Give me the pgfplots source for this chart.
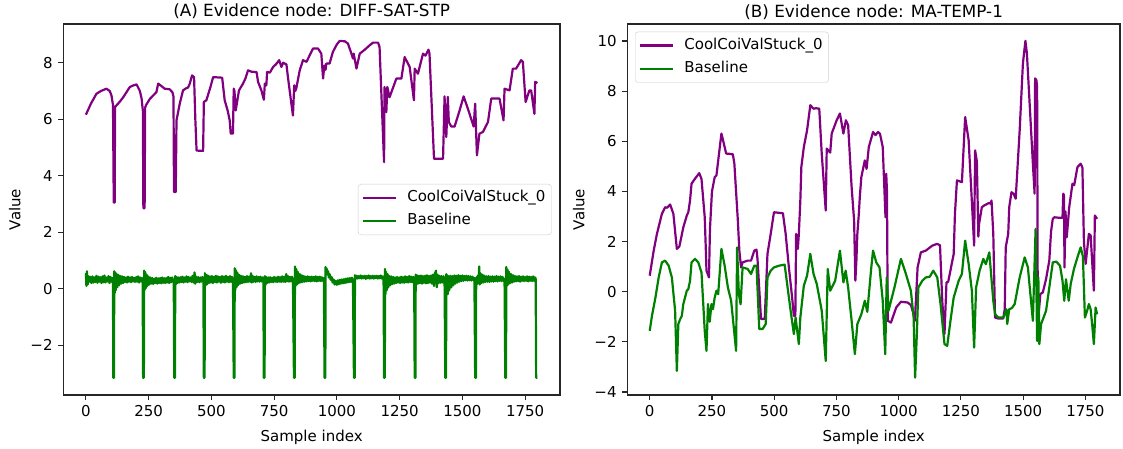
\documentclass[border=0pt]{standalone}
\usepackage{fontspec}
\setmainfont{DejaVu Sans}
\usepackage{pgfplots}
\pgfplotsset{compat=1.18}
\definecolor{mplpurple}{HTML}{800080}
\definecolor{mplgreen}{HTML}{008000}
\definecolor{legframe}{HTML}{CCCCCC}

\pgfplotsset{
  panel/.style={
    scale only axis, width=496.7pt, height=371pt,
    xmin=-90, xmax=1889,
    xtick={0,250,...,1750},
    xticklabels={0,250,500,750,1000,1250,1500,1750},
    axis line style={line width=1.1pt, black!85},
    tick style={line width=1.1pt, black!85},
    tick align=outside, major tick length=5pt, tick pos=left,
    ticklabel style={font=\fontsize{15}{18}\selectfont, inner sep=0pt},
    xticklabel shift=5.5pt, yticklabel shift=5.5pt,
    xlabel={Sample index}, ylabel={Value},
    every axis x label/.style={at={(axis description cs:0.5,0)}, anchor=north,
      inner sep=0pt, yshift=-35pt, font=\fontsize{15}{18}\selectfont},
    every axis y label/.style={at={(axis description cs:0,0.5)}, xshift=-42.6pt,
      rotate=90, anchor=south, inner sep=0pt, font=\fontsize{15}{18}\selectfont},
    every axis title/.style={font=\fontsize{16.8}{20}\selectfont, at={(axis description cs:0.5,1)},
      anchor=base, inner sep=0pt, yshift=7pt},
    legend style={draw=legframe, rounded corners=3pt, fill=white, fill opacity=0.8,
      text opacity=1, font=\fontsize{15}{18}\selectfont, inner xsep=4pt, inner ysep=4.4pt,
      nodes={inner sep=2pt, text height=11pt, text depth=3.5pt}, row sep=4.8pt, column sep=8pt},
    legend cell align=left,
    legend image code/.code={\draw[#1] (0pt,0pt) -- (33pt,0pt);},
    every axis plot/.append style={line width=2.2pt, line join=round},
  }
}

\begin{document}
\begin{tikzpicture}
\useasboundingbox (0pt,0pt) rectangle (1123pt,448pt);

% (A) DIFF-SAT-STP
\begin{axis}[panel, at={(63.3pt,53pt)}, anchor=south west,
  ymin=-3.76, ymax=9.37,
  ytick={-2,0,2,4,6,8}, yticklabels={−2,0,2,4,6,8},
  title={(A) Evidence node: DIFF-SAT-STP},
  legend style={at={(1,0.5)}, anchor=east, xshift=-8.3pt}]
\addplot[mplpurple] coordinates {
(0,6.16) (20,6.55) (42,6.90) (60,7.0) (82,7.08) (95,7.0) (102,6.84) (108,6.5)
(111,3.05) (115,3.05) (116,6.43) (135,6.62) (149,6.78) (162,6.96) (175,7.14)
(190,7.2) (202,7.23) (215,7.0) (222,6.73) (227,6.3) (229,2.85) (234,2.85)
(236,6.40) (239,6.49) (255,6.72) (268,6.84) (281,6.96) (288,7.26) (300,7.18)
(314,7.08) (334,7.06) (345,6.95) (349,6.8) (351,3.42) (358,3.42) (361,5.96)
(374,6.55) (387,7.02) (400,7.1) (407,7.12) (414,7.26) (423,7.55) (431,7.49)
(436,6.0) (441,4.89) (467,4.88) (470,6.61) (480,6.67) (495,7.1) (507,7.49)
(543,7.47) (553,6.67) (565,6.3) (573,5.96) (577,5.49) (586,5.49) (589,7.08)
(592,7.0) (597,6.31) (610,7.02) (626,7.26) (636,7.45) (646,7.73) (660,7.68)
(680,7.67) (686,7.32) (700,7.0) (709,6.69) (713,7.26) (719,7.2) (722,7.67)
(733,7.65) (746,7.85) (758,7.95) (770,8.09) (779,7.85) (786,8.00) (799,7.94)
(805,7.49) (815,6.8) (825,6.13) (830,7.20) (834,7.0) (838,7.08) (852,7.73)
(865,8.09) (879,8.03) (898,8.38) (905,8.50) (925,8.50) (938,8.32) (945,7.44)
(950,7.9) (955,7.75) (958,7.97) (971,7.97) (984,8.38) (1000,8.65) (1011,8.77)
(1031,8.76) (1044,8.68) (1058,8.32) (1064,8.15) (1067,8.32) (1078,7.79)
(1091,8.32) (1111,8.46) (1131,8.62) (1144,8.71) (1164,8.71) (1170,8.56)
(1188,4.48) (1190,7.14) (1197,6.25) (1201,7.14) (1210,6.78) (1237,7.44)
(1257,7.44) (1270,8.20) (1290,7.85) (1307,6.67) (1310,7.79) (1323,7.61)
(1343,8.32) (1353,8.25) (1365,8.46) (1369,8.32) (1387,4.60) (1423,4.60)
(1429,6.81) (1436,5.37) (1442,6.79) (1446,5.9) (1456,5.74) (1469,5.74)
(1489,6.31) (1505,6.81) (1522,6.37) (1545,5.74) (1551,6.55) (1558,4.72)
(1568,5.49) (1582,5.55) (1602,5.90) (1615,6.73) (1648,6.73) (1664,5.96)
(1668,7.08) (1688,7.02) (1701,7.79) (1714,7.79) (1734,8.09) (1741,8.03)
(1752,6.61) (1767,7.02) (1774,7.02) (1787,6.19) (1790,7.32) (1799,7.28)
};
\addlegendentry{CoolCoiValStuck\_0}
\addplot[mplgreen] coordinates {
(0,0.55) (2,0.10) (4,0.62) (7,0.15) (10,0.45) (14,0.25) (18,0.42) (22,0.20)
(26,0.44) (30,0.22) (34,0.40) (38,0.24) (42,0.46) (46,0.21) (50,0.43) (54,0.25)
(58,0.41) (62,0.20) (66,0.44) (70,0.23) (74,0.47) (78,0.22) (82,0.40) (86,0.26)
(90,0.45) (94,0.20) (98,0.42) (102,0.25) (106,0.38) (108,0.3)
(109,-3.15) (112,-3.15)
(113,0.62) (115,-0.15) (117,0.58) (119,-0.05) (122,0.52) (125,0.05) (128,0.50)
(132,0.12) (136,0.46) (140,0.18) (144,0.44) (148,0.20) (152,0.42) (156,0.24)
(160,0.40) (164,0.22) (168,0.43) (172,0.25) (176,0.40) (180,0.23) (184,0.42)
(188,0.26) (192,0.39) (196,0.24) (200,0.41) (204,0.25) (208,0.44) (212,0.22)
(216,0.40) (220,0.26) (224,0.38) (226,0.3)
(228,-3.15) (231,-3.15)
(232,0.64) (234,-0.05) (236,0.60) (239,0.02) (242,0.50) (245,0.10) (248,0.44)
(252,0.15) (256,0.40) (260,0.18) (264,0.38) (268,0.17) (272,0.36) (276,0.20)
(280,0.39) (284,0.18) (288,0.37) (292,0.20) (296,0.38) (300,0.19) (304,0.40)
(308,0.21) (312,0.37) (316,0.20) (320,0.38) (324,0.22) (328,0.42) (332,0.20)
(336,0.39) (340,0.23) (344,0.40) (348,0.24) (350,0.32)
(352,-3.15) (355,-3.15)
(356,0.45) (358,0.15) (361,0.42) (365,0.20) (369,0.40) (373,0.22) (377,0.41)
(381,0.24) (385,0.43) (389,0.22) (393,0.40) (397,0.25) (401,0.44) (405,0.23)
(409,0.42) (413,0.26) (417,0.40) (421,0.24) (425,0.46) (429,0.22) (433,0.58)
(436,0.18) (440,0.43) (444,0.24) (448,0.41) (452,0.23) (456,0.40) (460,0.25)
(464,0.42) (468,0.30)
(470,-3.15) (473,-3.15)
(474,0.55) (476,0.12) (479,0.50) (482,0.15) (486,0.47) (490,0.20) (494,0.44)
(498,0.22) (502,0.45) (506,0.20) (510,0.43) (514,0.24) (518,0.46) (522,0.22)
(526,0.44) (530,0.25) (534,0.42) (538,0.21) (542,0.45) (546,0.24) (550,0.43)
(554,0.22) (558,0.46) (562,0.25) (566,0.42) (570,0.23) (574,0.45) (578,0.24)
(582,0.42) (586,0.28)
(589,-3.15) (592,-3.15)
(593,0.73) (595,-0.05) (597,0.66) (600,0.05) (603,0.58) (606,0.12) (610,0.50)
(614,0.18) (618,0.46) (622,0.20) (626,0.44) (630,0.22) (634,0.42) (638,0.23)
(642,0.45) (646,0.24) (650,0.43) (654,0.25) (658,0.55) (661,0.22) (664,0.46)
(668,0.25) (672,0.42) (676,0.24) (680,0.44) (684,0.26) (688,0.42) (692,0.25)
(696,0.43) (700,0.26) (704,0.40) (707,0.3)
(709,-3.15) (712,-3.15)
(713,0.45) (715,0.12) (718,0.42) (722,0.20) (726,0.40) (730,0.22) (734,0.41)
(738,0.24) (742,0.39) (746,0.23) (750,0.42) (754,0.25) (758,0.40) (762,0.24)
(766,0.43) (770,0.25) (774,0.41) (778,0.24) (782,0.44) (786,0.25) (790,0.42)
(794,0.24) (798,0.52) (801,0.26) (805,0.45) (809,0.25) (813,0.42) (817,0.26)
(821,0.43) (825,0.30)
(829,-3.15) (832,-3.15)
(833,0.79) (835,0.10) (838,0.70) (841,0.15) (844,0.60) (848,0.20) (852,0.52)
(856,0.22) (860,0.48) (864,0.24) (868,0.45) (872,0.25) (876,0.43) (880,0.26)
(884,0.44) (888,0.27) (892,0.42) (896,0.26) (900,0.43) (904,0.28) (908,0.42)
(912,0.27) (916,0.44) (920,0.26) (924,0.42) (928,0.28) (932,0.43) (936,0.27)
(940,0.41) (944,0.28) (948,0.38)
(951,-3.15) (954,-3.15)
(955,0.77) (957,0.55) (959,0.72) (962,0.50) (965,0.62) (968,0.40) (971,0.52)
(975,0.32) (979,0.42) (983,0.22) (987,0.33) (991,0.15) (995,0.28) (1000,0.14)
(1004,0.30) (1008,0.16) (1012,0.32) (1016,0.18) (1020,0.33) (1024,0.19)
(1028,0.34) (1032,0.20) (1036,0.36) (1040,0.22) (1044,0.37) (1048,0.23)
(1052,0.38) (1056,0.24) (1060,0.39) (1064,0.30)
(1068,-3.15) (1071,-3.15)
(1072,0.48) (1075,0.35) (1079,0.46) (1083,0.36) (1087,0.45) (1091,0.37)
(1095,0.47) (1099,0.36) (1103,0.45) (1107,0.37) (1111,0.46) (1115,0.35)
(1119,0.45) (1123,0.37) (1127,0.47) (1131,0.36) (1135,0.45) (1139,0.37)
(1143,0.46) (1147,0.36) (1151,0.45) (1155,0.38) (1159,0.46) (1163,0.36)
(1167,0.45) (1171,0.37) (1175,0.47) (1179,0.36) (1183,0.44) (1186,0.38)
(1188,-3.15) (1191,-3.15)
(1192,0.70) (1194,-0.19) (1196,0.60) (1199,-0.05) (1202,0.52) (1205,0.05)
(1208,0.46) (1212,0.12) (1216,0.44) (1220,0.16) (1224,0.42) (1228,0.18)
(1232,0.40) (1236,0.20) (1240,0.42) (1244,0.22) (1248,0.40) (1252,0.20)
(1256,0.43) (1260,0.22) (1264,0.41) (1268,0.21) (1272,0.44) (1276,0.23)
(1280,0.42) (1284,0.22) (1288,0.45) (1292,0.24) (1296,0.43) (1300,0.23)
(1304,0.42) (1308,0.3)
(1310,-3.15) (1313,-3.15)
(1314,0.50) (1316,0.15) (1319,0.48) (1323,0.18) (1327,0.46) (1331,0.20)
(1335,0.47) (1339,0.18) (1343,0.45) (1347,0.21) (1351,0.46) (1355,0.19)
(1359,0.48) (1363,0.20) (1367,0.45) (1371,0.22) (1375,0.47) (1379,0.18)
(1383,0.50) (1387,0.10) (1391,0.55) (1395,0.64) (1398,0.05) (1401,0.50)
(1405,0.20) (1409,0.46) (1413,0.21) (1417,0.45) (1421,0.22) (1425,0.44) (1429,0.3)
(1432,-3.15) (1435,-3.15)
(1436,0.52) (1438,0.10) (1440,0.48) (1442,-0.19) (1445,0.44) (1448,-0.05)
(1452,0.46) (1456,0.05) (1460,0.45) (1464,0.12) (1468,0.47) (1472,0.18)
(1476,0.46) (1480,0.22) (1484,0.48) (1488,0.25) (1492,0.46) (1496,0.27)
(1500,0.47) (1504,0.28) (1508,0.45) (1512,0.30) (1516,0.46) (1520,0.29)
(1524,0.45) (1528,0.30) (1532,0.44) (1536,0.29) (1540,0.43) (1544,0.31) (1548,0.38)
(1551,-3.15) (1554,-3.15)
(1555,0.40) (1557,0.15) (1560,0.45) (1564,0.20) (1567,0.79) (1569,0.15)
(1572,0.55) (1576,0.20) (1580,0.50) (1584,0.22) (1588,0.46) (1592,0.24)
(1596,0.44) (1600,0.25) (1604,0.45) (1608,0.24) (1612,0.43) (1616,0.26)
(1620,0.44) (1624,0.25) (1628,0.43) (1632,0.27) (1636,0.45) (1640,0.26)
(1644,0.43) (1648,0.28) (1652,0.44) (1656,0.27) (1660,0.42) (1664,0.28) (1668,0.36)
(1671,-3.15) (1674,-3.15)
(1675,0.77) (1677,0.10) (1680,0.68) (1683,0.15) (1686,0.60) (1690,0.20)
(1694,0.52) (1698,0.22) (1702,0.48) (1706,0.25) (1710,0.45) (1714,0.26)
(1718,0.44) (1722,0.27) (1726,0.45) (1730,0.25) (1734,0.43) (1738,0.28)
(1742,0.44) (1746,0.27) (1750,0.42) (1754,0.28) (1758,0.44) (1762,0.26)
(1766,0.43) (1770,0.28) (1774,0.42) (1778,0.27) (1782,0.44) (1786,0.28)
(1790,0.40) (1792,0.35)
(1794,-3.15) (1799,-3.15)
};
\addlegendentry{Baseline}
\end{axis}

% (B) MA-TEMP-1
\begin{axis}[panel, at={(627.3pt,53pt)}, anchor=south west, width=492.7pt,
  ymin=-4.12, ymax=10.68,
  ytick={-4,-2,0,2,4,6,8,10}, yticklabels={−4,−2,0,2,4,6,8,10},
  title={(B) Evidence node: MA-TEMP-1},
  legend style={at={(0,1)}, anchor=north west, xshift=7.7pt, yshift=-7.7pt}]
\addplot[mplpurple] coordinates {
(0,0.64) (16,1.64) (29,2.31) (49,3.11) (62,3.37) (70,3.35) (82,3.48) (95,3.11)
(109,1.71) (119,1.8) (135,2.57) (149,3.04) (155,3.17) (162,3.64) (168,4.31)
(182,4.51) (199,4.73) (208,4.5) (221,2.97) (226,1.5) (228,0.84) (238,0.57)
(242,2.5) (250,4.0) (261,4.57) (268,4.64) (288,6.31) (298,5.9) (307,5.51)
(321,5.5) (334,5.48) (340,5.11) (354,2.84) (360,1.64) (367,0.97) (373,1.17)
(393,1.24) (407,1.24) (420,1.64) (429,1.68) (433,1.3) (447,-1.09) (462,-1.09)
(473,1.51) (486,2.31) (499,3.17) (535,3.13) (546,2.31) (559,0.97) (572,-0.23)
(579,-0.96) (585,-0.96) (588,2.31) (595,1.71) (599,2.31) (605,3.64) (609,4.97)
(619,5.77) (632,6.44) (645,7.44) (658,7.3) (668,7.32) (681,7.3) (691,5.5)
(707,3.24) (711,5.71) (725,5.55) (731,6.31) (751,6.84) (764,7.11) (778,6.31)
(788,6.84) (797,6.64) (811,4.17) (821,2.84) (826,0.44) (830,1.2) (834,2.31)
(840,3.11) (844,3.8) (850,4.57) (864,5.24) (871,4.9) (880,5.77) (897,6.37)
(907,6.25) (917,6.37) (925,6.3) (936,5.77) (947,2.97) (950,4.71) (953,4.0)
(956,-1.16) (969,-1.23) (990,-0.63) (1009,-0.40) (1036,-0.43) (1049,-0.53)
(1060,-0.89) (1065,-1.16) (1076,0.97) (1089,1.57) (1109,1.64) (1135,1.84)
(1155,1.91) (1166,1.85) (1175,-0.36) (1184,-1.69) (1192,0.37) (1199,0.4)
(1221,1.51) (1226,3.11) (1234,4.44) (1254,4.37) (1267,6.97) (1281,6.04)
(1298,2.84) (1303,1.84) (1307,5.64) (1314,5.2) (1320,2.2) (1323,2.71)
(1334,3.37) (1343,3.44) (1355,3.5) (1364,3.55) (1369,3.5) (1373,3.64)
(1380,2.31) (1387,-1.03) (1400,-1.07) (1420,-1.07) (1426,-0.7) (1430,1.77)
(1440,2.31) (1444,3.37) (1453,3.97) (1462,3.9) (1470,3.71) (1486,6.44)
(1499,9.11) (1509,10.01) (1515,9.51) (1526,7.51) (1539,5.11) (1546,3.91)
(1548,8.51) (1553,8.45) (1556,8.2) (1559,-1.96) (1563,-0.8) (1569,-0.09)
(1579,-0.03) (1592,0.51) (1605,1.24) (1612,2.4) (1619,2.91) (1625,2.97)
(1645,2.95) (1658,2.95) (1661,3.91) (1664,3.85) (1666,0.97) (1670,3.2)
(1675,2.17) (1685,3.37) (1698,4.31) (1705,4.25) (1718,4.97) (1731,5.11)
(1738,4.95) (1744,2.0) (1751,1.11) (1764,2.31) (1771,2.25) (1784,0.04)
(1788,3.04) (1797,2.91)
};
\addlegendentry{CoolCoiValStuck\_0}
\addplot[mplgreen] coordinates {
(0,-1.56) (9,-0.96) (23,-0.23) (36,0.57) (49,1.17) (62,1.24) (76,1.04) (89,0.57)
(102,-0.76) (109,-3.16) (115,-1.29) (122,-1.1) (129,-0.96) (135,-0.49) (149,0.04)
(155,0.1) (162,0.44) (168,1.17) (182,1.31) (195,1.17) (208,0.77) (221,-1.56)
(228,-2.36) (234,-0.49) (241,-1.2) (248,-0.49) (254,-0.7) (261,-0.23) (268,0.04)
(275,-0.1) (288,1.71) (301,1.04) (314,0.17) (327,-0.36) (347,-2.36) (351,1.77)
(358,-0.09) (365,-0.5) (373,0.97) (393,0.91) (407,0.71) (420,1.04) (429,1.04)
(440,-1.49) (453,-1.49) (466,-1.29) (473,0.57) (486,0.84) (499,0.97) (520,1.04)
(542,1.08) (552,0.31) (566,-0.76) (579,-1.69) (586,-1.03) (599,-2.09) (605,-1.03)
(619,0.24) (632,0.64) (645,1.51) (658,0.71) (671,0.31) (691,-0.76) (707,-2.76)
(715,0.91) (725,0.04) (745,0.44) (764,1.64) (778,0.37) (787,0.84) (797,0.17)
(811,-1.16) (824,-2.49) (834,-1.29) (850,-0.9) (864,-0.36) (874,-0.8) (890,0.97)
(897,1.64) (910,1.17) (923,0.97) (936,-0.36) (946,-2.49) (952,0.57) (959,-0.76)
(983,0.17) (1009,1.31) (1029,0.71) (1049,0.04) (1060,-1.03) (1066,-3.43)
(1073,-1.69) (1079,0.17) (1095,0.44) (1109,0.57) (1125,0.6) (1139,0.84)
(1155,0.57) (1168,-0.49) (1184,-2.09) (1195,-2.16) (1208,-1.16) (1221,-0.23)
(1241,0.44) (1254,0.71) (1267,2.04) (1281,1.11) (1294,0.04) (1303,-2.23)
(1311,0.17) (1325,0.84) (1340,1.31) (1350,1.1) (1364,1.57) (1380,-0.36)
(1387,-0.89) (1400,-1.03) (1420,-1.03) (1433,-0.7) (1436,-1.29) (1444,-0.7)
(1455,-0.65) (1466,-0.49) (1486,0.57) (1506,1.37) (1519,0.97) (1539,-1.16)
(1550,2.51) (1556,-1.96) (1561,0.57) (1565,-2.09) (1572,-1.29) (1592,-0.76)
(1605,0.17) (1619,1.17) (1633,1.2) (1648,1.04) (1658,0.44) (1665,-0.36)
(1672,0.5) (1683,-0.36) (1691,0.31) (1704,0.91) (1718,1.37) (1731,1.77)
(1740,1.4) (1748,-1.03) (1757,-0.76) (1764,-0.49) (1771,-0.7) (1777,-1.29)
(1784,-2.09) (1791,-0.63) (1797,-0.9)
};
\addlegendentry{Baseline}
\end{axis}
\end{tikzpicture}
\end{document}
